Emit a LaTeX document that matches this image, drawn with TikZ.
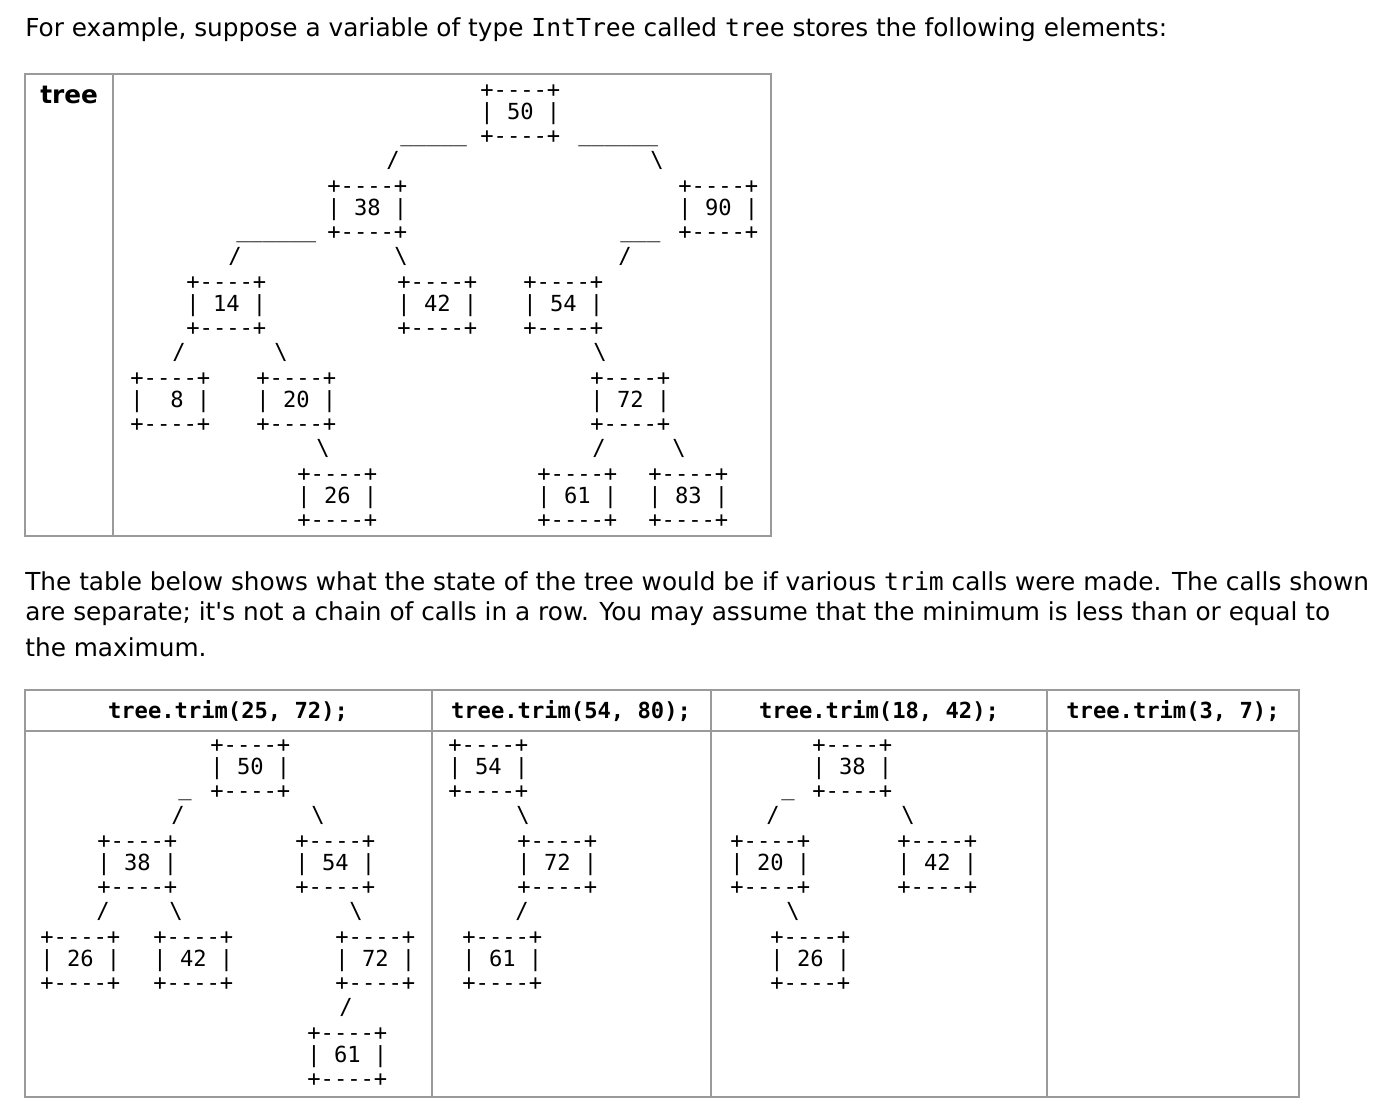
\documentclass[tikz,border=0pt]{standalone}
\usepackage{fontspec}
\setmainfont{DejaVu Sans}
\setmonofont{DejaVu Sans Mono}
\definecolor{rule}{HTML}{9A9A9A}
\tikzset{
  txt/.style={anchor=west,inner sep=0pt,font=\fontsize{14.1}{16}\selectfont},
  asc/.style={anchor=west,inner sep=0pt,yshift=-0.06cm,font=\fontsize{12.6}{13}\ttfamily},
  hdr/.style={inner sep=0pt,font=\fontsize{12.6}{13}\ttfamily\bfseries},
  frame/.style={draw=rule,line width=1.2pt}
}
% box of three ascii lines: name, left x, top row y, label
\newcommand{\bx}[4]{%
  \node[asc] (#1t) at (#2,#3) {+----+};
  \node[asc] (#1m) at (#2,#3+23) {|~#4~|};
  \node[asc] (#1b) at (#2,#3+46) {+----+};}
\newcommand{\lsl}[3]{\node[asc] (#1) at (#2,#3) {/};}
\newcommand{\rsl}[3]{\node[asc] (#1) at (#2,#3) {\textbackslash};}
\begin{document}
\begin{tikzpicture}[x=0.02cm,y=-0.02cm]
\useasboundingbox (0,0) rectangle (1384,1114);

\node[txt] (intro) at (25,30) {For example, suppose a variable of type \texttt{IntTree} called \texttt{tree} stores the following elements:};

% top table
\draw[frame] (25,74) rectangle (771,536);
\draw[frame] (113,74) -- (113,536);
\node[txt,font=\fontsize{14.1}{16}\bfseries\selectfont] (lbl) at (40,95) {tree};

\bx{n50}{480}{88}{50}
\node[asc] (u1) at (400,141) {\_\_\_\_\_};
\node[asc] (u2) at (578,141) {\_\_\_\_\_\_};
\lsl{s1}{386}{157} \rsl{s2}{650}{157}
\bx{n38}{327}{184}{38}
\bx{n90}{678}{184}{90}
\node[asc] (u3) at (236,237) {\_\_\_\_\_\_};
\node[asc] (u4) at (620,237) {\_\_\_};
\lsl{s3}{228}{253} \rsl{s4}{394}{253} \lsl{s5}{618}{253}
\bx{n14}{186}{280}{14}
\bx{n42}{397}{280}{42}
\bx{n54}{523}{280}{54}
\lsl{s6}{172}{349} \rsl{s7}{274}{349} \rsl{s8}{593}{349}
\bx{n8}{130}{376}{~8}
\bx{n20}{256}{376}{20}
\bx{n72}{590}{376}{72}
\rsl{s9}{316}{445} \lsl{s10}{592}{445} \rsl{s11}{672}{445}
\bx{n26}{297}{472}{26}
\bx{n61}{537}{472}{61}
\bx{n83}{648}{472}{83}

% paragraph
\node[txt] (p1) at (25,581) {The table below shows what the state of the tree would be if various \texttt{trim} calls were made. The calls shown};
\node[txt] (p2) at (25,614) {are separate; it\textquotesingle s not a chain of calls in a row. You may assume that the minimum is less than or equal to};
\node[txt] (p3) at (25,647) {the maximum.};

% bottom table
\draw[frame] (25,690) rectangle (1299,1097);
\draw[frame] (25,731) -- (1299,731);
\foreach \x in {432,711,1047} \draw[frame] (\x,690) -- (\x,1097);
\node[hdr] (h1) at (228,711) {tree.trim(25, 72);};
\node[hdr] (h2) at (571,711) {tree.trim(54, 80);};
\node[hdr] (h3) at (879,711) {tree.trim(18, 42);};
\node[hdr] (h4) at (1173,711) {tree.trim(3, 7);};

% trim(25,72)
\bx{a50}{210}{743}{50}
\node[asc] (au) at (178,795) {\_};
\lsl{a1}{171}{812} \rsl{a2}{311}{812}
\bx{a38}{97}{839}{38}
\bx{a54}{295}{839}{54}
\lsl{a3}{96}{908} \rsl{a4}{169}{908} \rsl{a5}{349}{908}
\bx{a26}{40}{935}{26}
\bx{a42}{153}{935}{42}
\bx{a72}{335}{935}{72}
\lsl{a6}{339}{1004}
\bx{a61}{307}{1031}{61}

% trim(54,80)
\bx{b54}{448}{743}{54}
\rsl{b1}{516}{812}
\bx{b72}{517}{839}{72}
\lsl{b2}{515}{908}
\bx{b61}{462}{935}{61}

% trim(18,42)
\bx{c38}{812}{743}{38}
\node[asc] (cu) at (781,795) {\_};
\lsl{c1}{766}{812} \rsl{c2}{901}{812}
\bx{c20}{730}{839}{20}
\bx{c42}{897}{839}{42}
\rsl{c3}{786}{908}
\bx{c26}{770}{935}{26}
\end{tikzpicture}
\end{document}
